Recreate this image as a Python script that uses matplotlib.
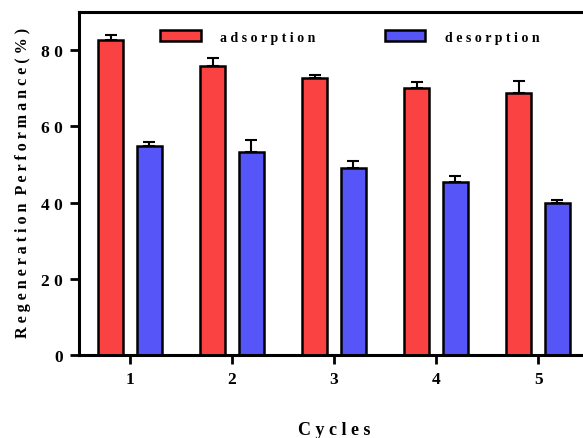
import numpy as np
import matplotlib
matplotlib.use('Agg')
import matplotlib.pyplot as plt
from matplotlib.patches import Patch

plt.rcParams['font.family'] = ['Liberation Serif', 'DejaVu Serif']
plt.rcParams['font.weight'] = 'bold'

# data
cycles = [1, 2, 3, 4, 5]
adsorption = [82.6, 75.8, 72.6, 70.2, 68.9]
adsorption_err = [1.3, 2.2, 1.0, 1.5, 3.1]
desorption = [55.0, 53.3, 49.2, 45.5, 40.0]
desorption_err = [1.0, 3.2, 1.8, 1.5, 0.8]
yticks = [0, 20, 40, 60, 80]


def spaced(s):
    # letter-spaced text like the original figure
    return '  '.join(' '.join(w) for w in s.split(' '))


red = '#FA4242'
blue = '#5555F8'

fig = plt.figure(figsize=(5.83, 4.39), dpi=100)
ax = fig.add_axes([0.1355, 0.189, 0.875, 0.781])

x = np.array(cycles, dtype=float)
off = 0.19
w = 0.25
ax.bar(x - off, adsorption, w, color=red, edgecolor='black', linewidth=1.8, zorder=2)
ax.bar(x + off, desorption, w, color=blue, edgecolor='black', linewidth=1.8, zorder=2)
ax.errorbar(x - off, adsorption, yerr=[np.zeros(5), adsorption_err], fmt='none',
            ecolor='black', elinewidth=1.5, capsize=4.5, capthick=1.5, zorder=1)
ax.errorbar(x + off, desorption, yerr=[np.zeros(5), desorption_err], fmt='none',
            ecolor='black', elinewidth=1.5, capsize=4.5, capthick=1.5, zorder=1)

ax.set_xlim(0.5, 5.5)
ax.set_ylim(0, 90)
ax.set_xticks(cycles)
ax.set_xticklabels([str(c) for c in cycles])
ax.set_yticks(yticks)
ax.set_yticklabels([spaced(str(t)) for t in yticks])
ax.tick_params(direction='out', length=6.5, width=2, labelsize=12.5, pad=5)

for s in ax.spines.values():
    s.set_linewidth(2.2)
ax.spines['right'].set_visible(False)

ax.set_xlabel(spaced('Cycles'), fontsize=13, fontweight='bold', va='center')
ax.xaxis.set_label_coords(0.5, -0.216)
ax.set_ylabel(spaced('Regeneration Performance(%)'), fontsize=11.6, fontweight='bold',
              va='center')
ax.yaxis.set_label_coords(-0.11, 0.506)

handles = [Patch(facecolor=red, edgecolor='black', linewidth=1.8),
           Patch(facecolor=blue, edgecolor='black', linewidth=1.8)]
ax.legend(handles, [spaced('adsorption'), spaced('desorption')], ncol=2,
          loc='center', bbox_to_anchor=(0.531, 0.928), frameon=False,
          handlelength=2.9, handleheight=0.85, handletextpad=1.4,
          columnspacing=5.0, prop={'size': 10, 'weight': 'bold'})

fig.savefig('out.png', dpi=100)
